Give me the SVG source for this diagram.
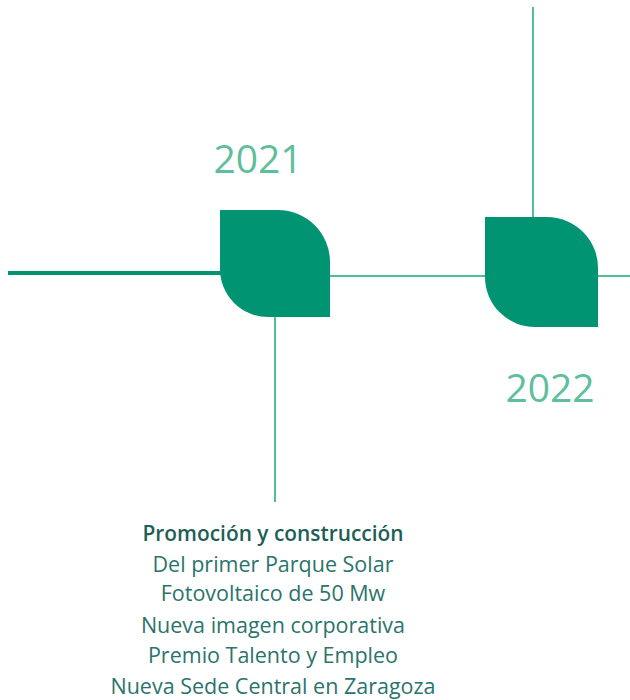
<svg xmlns="http://www.w3.org/2000/svg" width="630" height="700" viewBox="0 0 630 700">
<style>
.leaf{fill:#009473}
.year{font-family:"Open Sans","Liberation Sans",sans-serif;font-size:39px;fill:#5fbf9c;text-anchor:middle}
.body{font-family:"Open Sans","Liberation Sans",sans-serif;font-size:21.5px;fill:#2a746b;text-anchor:middle}
.title{font-weight:600;fill:#1d5e57}
.thin{stroke:#4fbf98;stroke-width:2;fill:none}
.thick{stroke:#009473;stroke-width:4;fill:none}
</style>
<rect width="630" height="700" fill="#ffffff"/>
<g id="connectors">
<line class="thick" x1="8" y1="273" x2="222" y2="273"/>
<line class="thin" x1="330" y1="276" x2="486" y2="276"/>
<line class="thin" x1="597" y1="276" x2="630" y2="276"/>
<line class="thin" x1="275" y1="316" x2="275" y2="502"/>
<line class="thin" x1="533" y1="7" x2="533" y2="220"/>
</g>
<g id="node2021">
<path class="leaf" d="M220 210 H278 A52 52 0 0 1 330 262 V317 H268 A48 48 0 0 1 220 269 Z"/>
<text class="year" x="258" y="173">2021</text>
</g>
<g id="node2022">
<path class="leaf" d="M485 217 H547 A51 51 0 0 1 598 268 V327 H535 A50 50 0 0 1 485 277 Z"/>
<text class="year" x="550" y="402">2022</text>
</g>
<g id="desc2021">
<text class="body title" x="273" y="541" textLength="261" lengthAdjust="spacingAndGlyphs">Promoción y construcción</text>
<text class="body" x="273" y="572">Del primer Parque Solar</text>
<text class="body" x="273" y="601">Fotovoltaico de 50 Mw</text>
<text class="body" x="273" y="633">Nueva imagen corporativa</text>
<text class="body" x="273" y="663">Premio Talento y Empleo</text>
<text class="body" x="273" y="694">Nueva Sede Central en Zaragoza</text>
</g>
</svg>
